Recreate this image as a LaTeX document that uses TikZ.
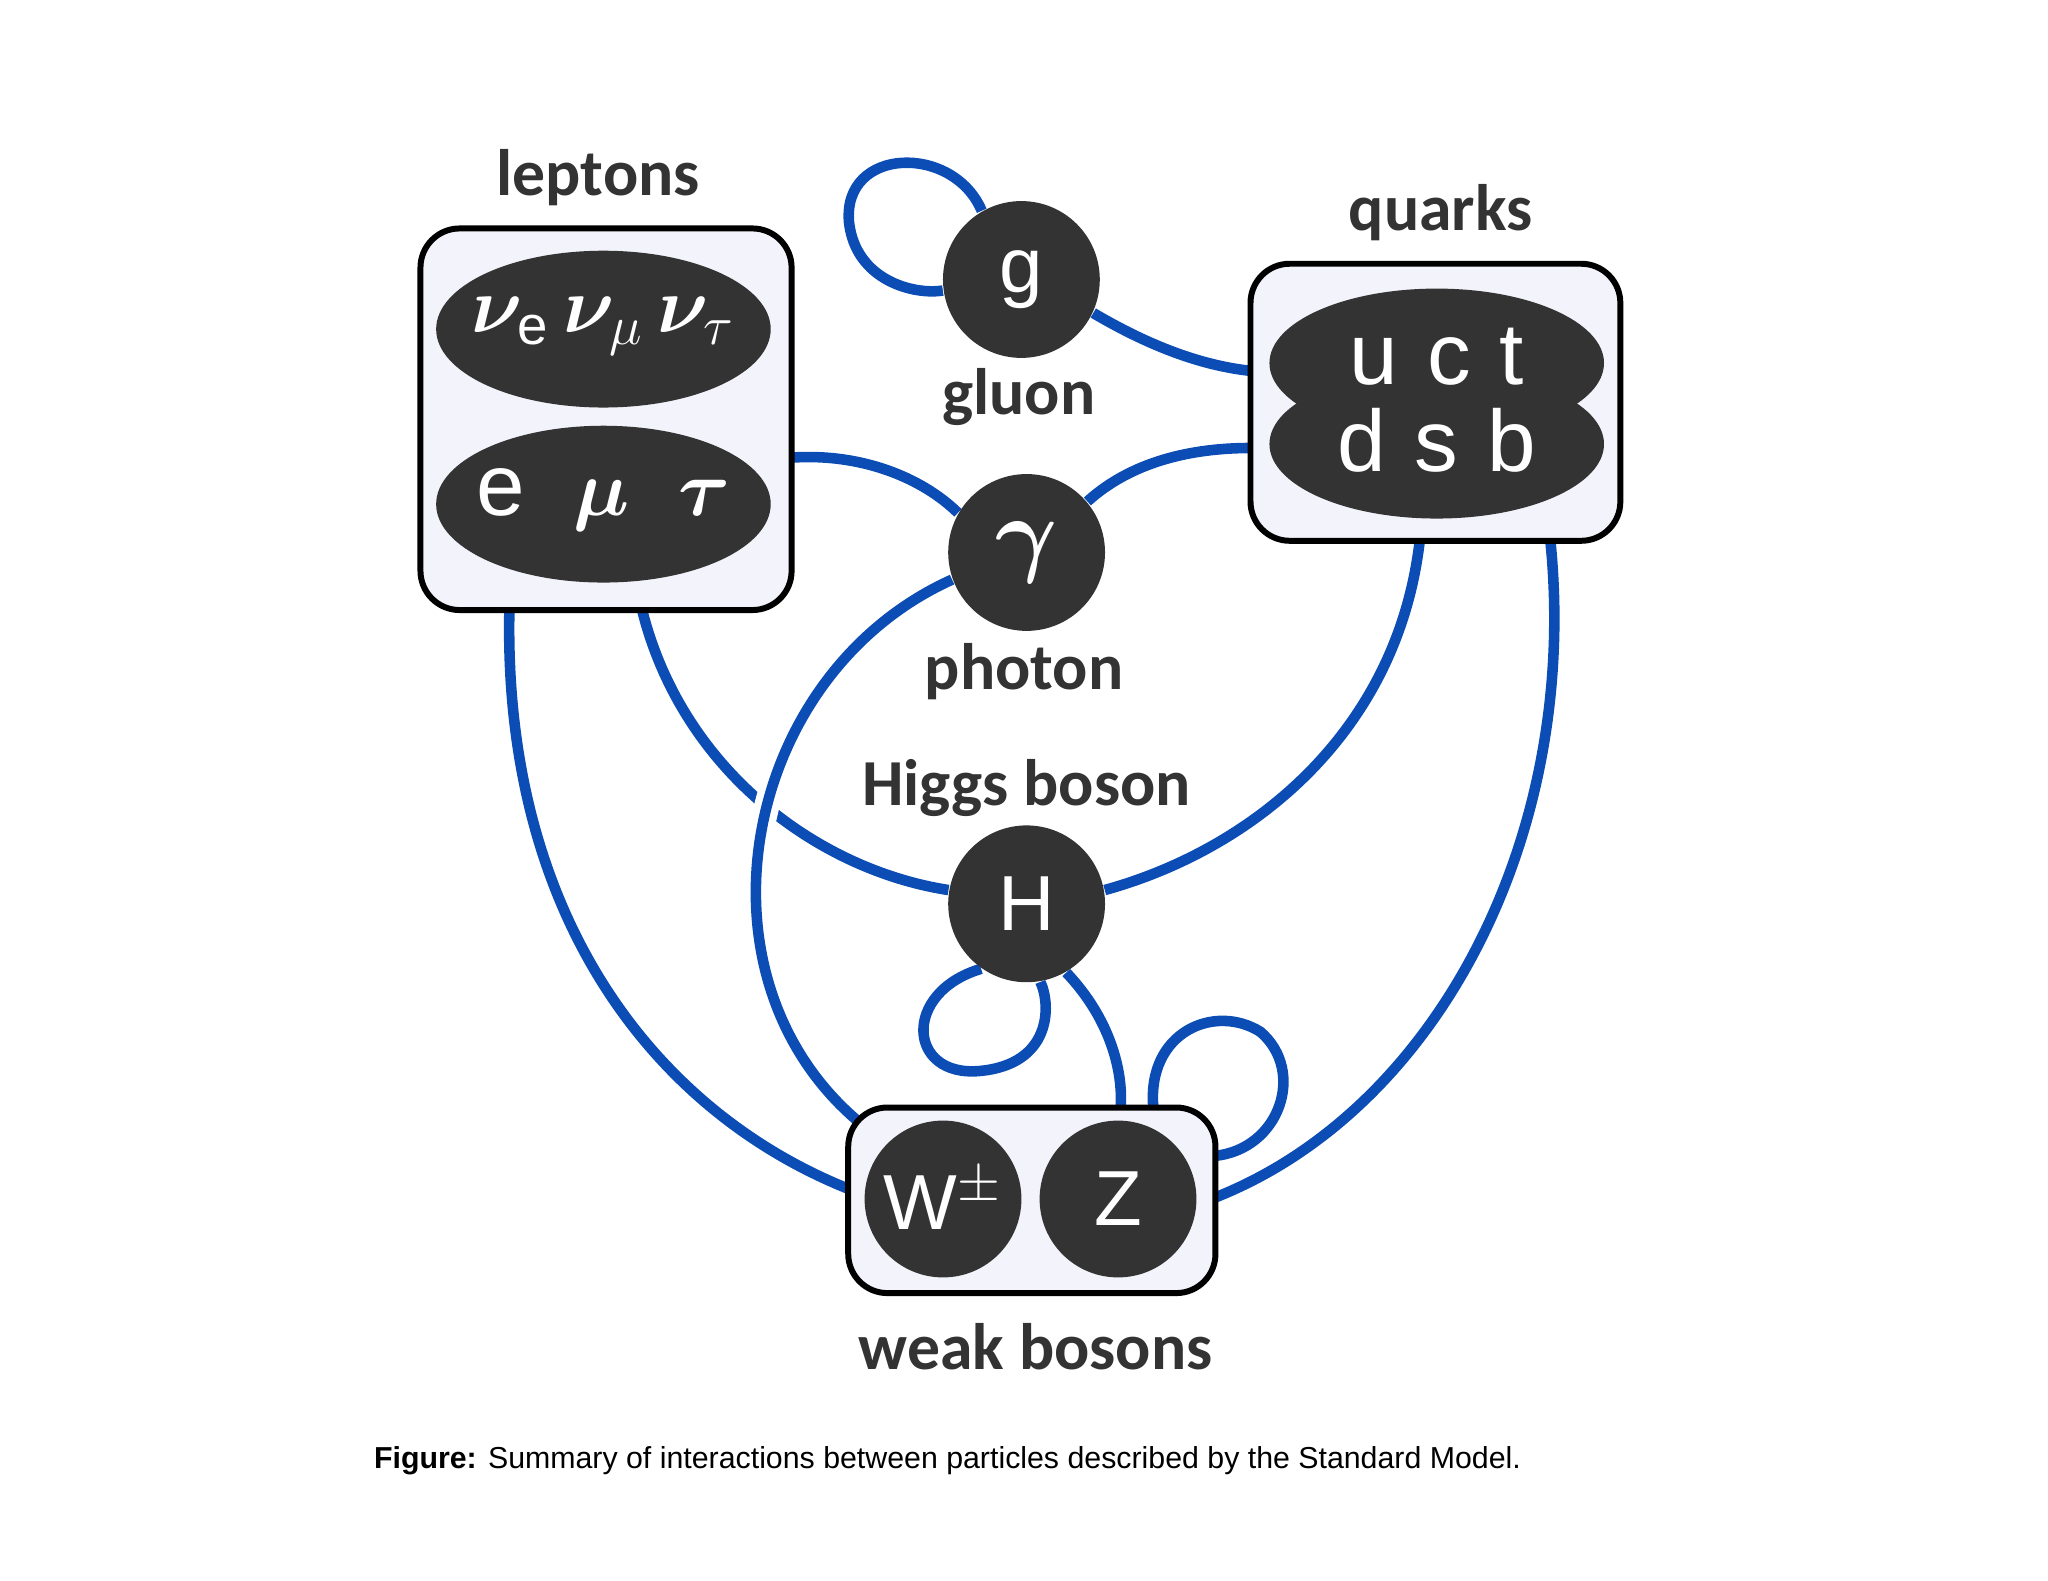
\documentclass[tikz,border=0pt]{standalone}
\usepackage{amsmath,amssymb}
\usepackage{bm}
\usepackage{fontspec}
\setmainfont{Liberation Sans}
\newfontfamily\lbl{Carlito}
\usetikzlibrary{shapes.geometric,backgrounds}
\definecolor{lnk}{HTML}{0B4DB4}
\definecolor{dk}{HTML}{333333}
\definecolor{bx}{HTML}{F3F3FB}
\definecolor{tx}{HTML}{333333}
\begin{document}
\begin{tikzpicture}[x=0.01cm,y=-0.01cm,
  part/.style={circle,fill=dk,minimum size=1.2cm,inner sep=0pt,text=white,font=\fontsize{17}{17}\selectfont},
  ell/.style={ellipse,fill=dk,minimum width=2.56cm,minimum height=1.2cm,inner sep=0pt,text=white,font=\fontsize{19}{19}\selectfont},
  box/.style={draw=black,line width=1.3pt,fill=bx,rounded corners=0.3cm,inner sep=0pt},
  lab/.style={text=tx,font=\lbl\bfseries\fontsize{14.3}{16}\selectfont},
  con/.style={draw=lnk,line width=2.3pt},
  every node/.append style={anchor=center}]
\useasboundingbox (0,0) rectangle (1568,1210);
% boxes
\node[box,minimum width=2.84cm,minimum height=2.92cm] (lbox) at (464,321) {};
\node[box,minimum width=2.83cm,minimum height=2.12cm] (qbox) at (1099,308) {};
\node[box,minimum width=2.81cm,minimum height=1.42cm] (wbox) at (790,919) {};
% ellipses
\node[ell] (nu) at (462,252) {};
\node[text=white,font=\fontsize{17}{17}\selectfont] (nut) at (462,250) {$\bm{\nu}_{\mathrm{e}}\,\bm{\nu}_{\mu}\,\bm{\nu}_{\tau}$};
\node[ell] (lep) at (462,386) {};
\node[text=white,font=\fontsize{19}{19}\selectfont] (lept) at (462,383) {e\;\;$\bm{\mu}$\;\;$\bm{\tau}$};
\node[ell,minimum height=1.14cm] (up) at (1100,278) {};
\node[ell,minimum height=1.14cm] (down) at (1100,340) {};
\node[text=white,font=\fontsize{19}{19}\selectfont] (uct) at (1100,273) {u\,\,c\,\,t};
\node[text=white,font=\fontsize{19}{19}\selectfont] (dsb) at (1100,337) {d\,\,s\,\,b};
% circles
\node[part] (g) at (782,214) {g};
\node[part,font=\fontsize{22}{22}\selectfont] (gam) at (786,423) {$\bm{\gamma}$};
\node[part] (H) at (786,692) {H};
\node[part] (W) at (722,918) {W$^{\pm}$};
\node[part] (Z) at (856,918) {Z};
% labels
\node[lab] (l1) at (458,136) {leptons};
\node[lab] (l2) at (1103,163) {quarks};
\node[lab] (l3) at (780,304) {gluon};
\node[lab] (l4) at (784,514) {photon};
\node[lab] (l5) at (786,603) {Higgs boson};
\node[lab] (l6) at (793,1031) {weak bosons};
\node[anchor=west,font=\fontsize{6.6}{8}\selectfont] (cap) at (274,1118) {\textbf{Figure:} Summary of interactions between particles described by the Standard Model.};
% attachment points
\coordinate (q1) at (958,284);
\coordinate (q2) at (958,343);
\coordinate (q3) at (1087,414);
\coordinate (q4) at (1187,414);
\coordinate (l1p) at (575,355);
\coordinate (l2p) at (487,445);
\coordinate (l3p) at (390,467);
\coordinate (w1) at (649,910);
\coordinate (w2) at (930,917);
\coordinate (w3) at (858,848);
\coordinate (w4) at (883,848);
\coordinate (w5) at (930,885);
\begin{pgfonlayer}{background}
\draw[con] (g.120) .. controls (730,110) and (645,112) .. (650,170) .. controls (655,215) and (700,226) .. (g.188);
\draw[con] (g.-25) .. controls (880,265) and (920,280) .. (q1);
\draw[con] (l1p) .. controls (640,340) and (700,360) .. (gam.150);
\draw[con] (gam.40) .. controls (870,350) and (920,343) .. (q2);
\draw[con] (l2p) .. controls (510,580) and (620,665) .. (H.170);
\draw[con] (q3) .. controls (1070,560) and (960,650) .. (H.10);
\draw[con,preaction={draw,white,line width=5.5pt}] (gam.200) .. controls (560,520) and (520,770) .. (W.135);
\draw[con] (l3p) .. controls (385,700) and (500,850) .. (w1);
\draw[con] (q4) .. controls (1210,640) and (1100,850) .. (w2);
\draw[con] (H.235) .. controls (690,760) and (695,825) .. (750,820) .. controls (805,815) and (805,770) .. (H.280);
\draw[con] (H.-60) .. controls (850,780) and (860,820) .. (w3);
\draw[con] (w4) .. controls (878,790) and (930,768) .. (965,790) .. controls (1000,820) and (980,880) .. (w5);
\end{pgfonlayer}
\end{tikzpicture}
\end{document}
